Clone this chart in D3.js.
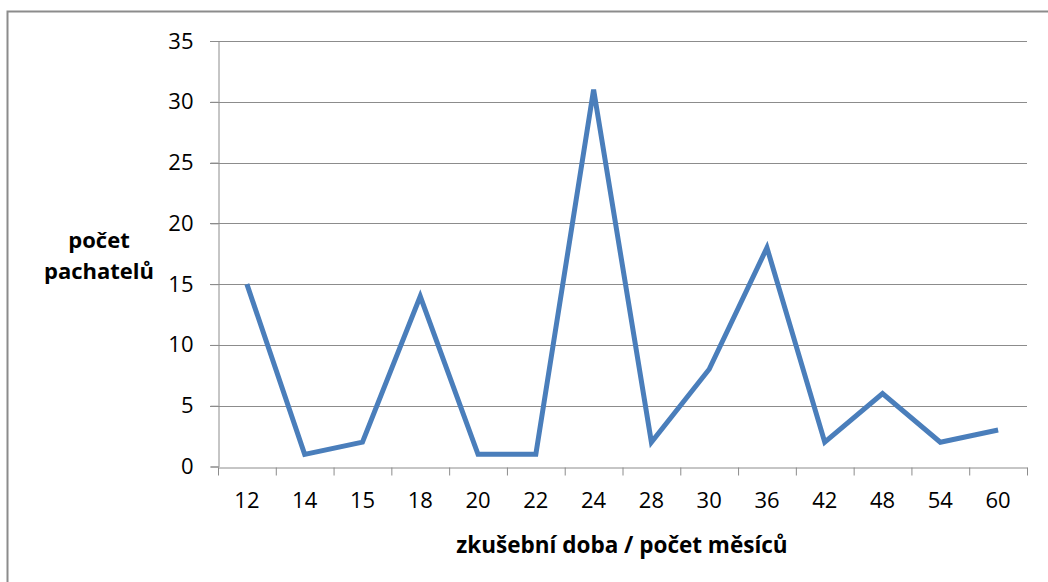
<!DOCTYPE html>
<html>
<head>
<meta charset="utf-8">
<script src="https://cdn.jsdelivr.net/npm/d3@7"></script>
<style>
  body { margin: 0; background: #fff; }
  text { font-family: "Open Sans", "DejaVu Sans", sans-serif; fill: #000; }
</style>
</head>
<body>
<div id="chart"></div>
<script>
const months = ["12", "14", "15", "18", "20", "22", "24", "28", "30", "36", "42", "48", "54", "60"];
const offenders = [15, 1, 2, 14, 1, 1, 31, 2, 8, 18, 2, 6, 2, 3];
const yTicks = [0, 5, 10, 15, 20, 25, 30, 35];

const W = 1048, H = 582;
const plotLeft = 218, plotRight = 1027, plotTop = 41, plotBottom = 466.5;

const svg = d3.select("#chart").append("svg")
    .attr("width", W)
    .attr("height", H);

// outer frame (runs off the right and bottom edge)
svg.append("rect")
    .attr("x", 7.5).attr("y", 11.5)
    .attr("width", W + 20).attr("height", H + 20)
    .attr("fill", "none")
    .attr("stroke", "#8c8c8c")
    .attr("stroke-width", 2);

const x = d3.scaleBand().domain(months).range([plotLeft, plotRight]);
const y = d3.scaleLinear().domain([0, 35]).range([plotBottom, plotTop]);

// gridlines
svg.append("g")
    .selectAll("line")
    .data(yTicks.filter(d => d > 0))
    .enter().append("line")
    .attr("x1", plotLeft - 8).attr("x2", plotRight)
    .attr("y1", d => Math.round(y(d)) + 0.5)
    .attr("y2", d => Math.round(y(d)) + 0.5)
    .attr("stroke", "#8c8c8c")
    .attr("stroke-width", 1);

// y axis
const yAxis = svg.append("g")
    .attr("transform", `translate(${plotLeft + 0.5},0)`)
    .call(d3.axisLeft(y).tickValues(yTicks).tickSize(8).tickPadding(17));
yAxis.select(".domain").attr("stroke", "#8c8c8c");
yAxis.selectAll(".tick line").attr("stroke", "#8c8c8c");
yAxis.selectAll("text").style("font-size", "22px").attr("fill", "#000");

// x axis
const xAxis = svg.append("g")
    .attr("transform", `translate(0,${Math.round(plotBottom) + 0.5})`)
    .call(d3.axisBottom(x).tickSize(0).tickPadding(25));
xAxis.select(".domain").attr("stroke", "#8c8c8c");
xAxis.selectAll("text").style("font-size", "22px").attr("fill", "#000");

// ticks between categories
xAxis.selectAll(".sep")
    .data(months.concat(["end"]))
    .enter().append("line")
    .attr("class", "sep")
    .attr("x1", (d, i) => plotLeft + i * x.step() + 0.5)
    .attr("x2", (d, i) => plotLeft + i * x.step() + 0.5)
    .attr("y1", 0).attr("y2", 8)
    .attr("stroke", "#8c8c8c");

// data line
const line = d3.line()
    .x((d, i) => x(months[i]) + x.bandwidth() / 2)
    .y(d => y(d));

svg.append("path")
    .datum(offenders)
    .attr("d", line)
    .attr("fill", "none")
    .attr("stroke", "#4a7ebb")
    .attr("stroke-width", 5)
    .attr("stroke-linejoin", "miter");

// axis titles
svg.append("text")
    .attr("x", 622).attr("y", 553)
    .attr("text-anchor", "middle")
    .style("font-size", "22.5px")
    .style("font-weight", "bold")
    .text("zkušební doba / počet měsíců");

const yTitle = svg.append("text")
    .attr("x", 99).attr("y", 248)
    .attr("text-anchor", "middle")
    .style("font-size", "22px")
    .style("font-weight", "bold");
yTitle.append("tspan").attr("x", 99).text("počet");
yTitle.append("tspan").attr("x", 99).attr("dy", 31).text("pachatelů");
</script>
</body>
</html>
